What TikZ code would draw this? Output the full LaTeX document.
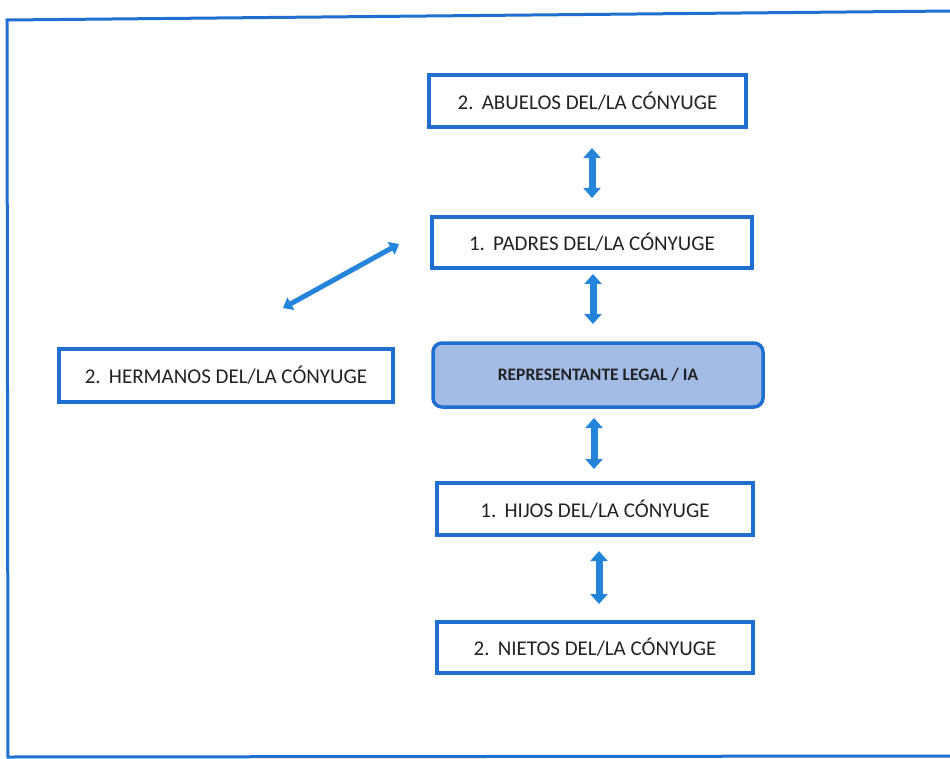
\documentclass[tikz,border=0pt]{standalone}
\usepackage{fontspec}
\setmainfont{Carlito}
\usetikzlibrary{arrows.meta}
\definecolor{bluebd}{HTML}{1F6FD0}
\definecolor{arrowc}{HTML}{2384DA}
\definecolor{repfill}{HTML}{A3BCE6}
\definecolor{txt}{HTML}{222222}
\begin{document}
\begin{tikzpicture}[x=1pt,y=-1pt,
  kbox/.style={draw=bluebd,line width=3.5pt,fill=white,text=txt,inner sep=0pt,font=\fontsize{21}{24}\selectfont},
  repbox/.style={draw=bluebd,line width=3.5pt,fill=repfill,rounded corners=9pt,text=txt,inner sep=0pt,font=\fontsize{17.5}{20}\selectfont\bfseries},
  link/.style={draw=arrowc,line width=7pt,{Triangle[length=10pt,width=17pt]}-{Triangle[length=10pt,width=17pt]}},
  dlink/.style={draw=arrowc,line width=5pt,{Triangle[length=9pt,width=14pt]}-{Triangle[length=9pt,width=14pt]}},
  frame/.style={draw=bluebd,line width=3pt}]
\useasboundingbox (0,0) rectangle (950,759);
% outer frame
\coordinate (f1) at (7,20);
\coordinate (f2) at (952,11);
\coordinate (f3) at (8,757);
\coordinate (f4) at (952,756);
\draw[frame] (f2) -- (f1) -- (f3) -- (f4);
% boxes
\node[kbox,minimum width=317pt,minimum height=52pt] (abuelos) at (587.5,101) {2.\,\ ABUELOS DEL/LA CÓNYUGE};
\node[kbox,minimum width=320pt,minimum height=51pt] (padres) at (592,242.5) {1.\,\ PADRES DEL/LA CÓNYUGE};
\node[repbox,minimum width=330pt,minimum height=64pt] (rep) at (598,375) {REPRESENTANTE LEGAL / IA};
\node[kbox,minimum width=334pt,minimum height=53pt] (hermanos) at (226,375.5) {2.\,\ HERMANOS DEL/LA CÓNYUGE};
\node[kbox,minimum width=316pt,minimum height=52pt] (hijos) at (595,509) {1.\,\ HIJOS DEL/LA CÓNYUGE};
\node[kbox,minimum width=316pt,minimum height=51pt] (nietos) at (595,647.5) {2.\,\ NIETOS DEL/LA CÓNYUGE};
% arrow end points
\coordinate (a1) at (592,148);
\coordinate (a2) at (592,198);
\coordinate (b1) at (593,274);
\coordinate (b2) at (593,324);
\coordinate (c1) at (594,418);
\coordinate (c2) at (594,469);
\coordinate (d1) at (599,551);
\coordinate (d2) at (599,604);
\coordinate (e1) at (399,244);
\coordinate (e2) at (283,308);
\draw[link] (a1) -- (a2);
\draw[link] (b1) -- (b2);
\draw[link] (c1) -- (c2);
\draw[link] (d1) -- (d2);
\draw[dlink] (e1) -- (e2);
\end{tikzpicture}
\end{document}
